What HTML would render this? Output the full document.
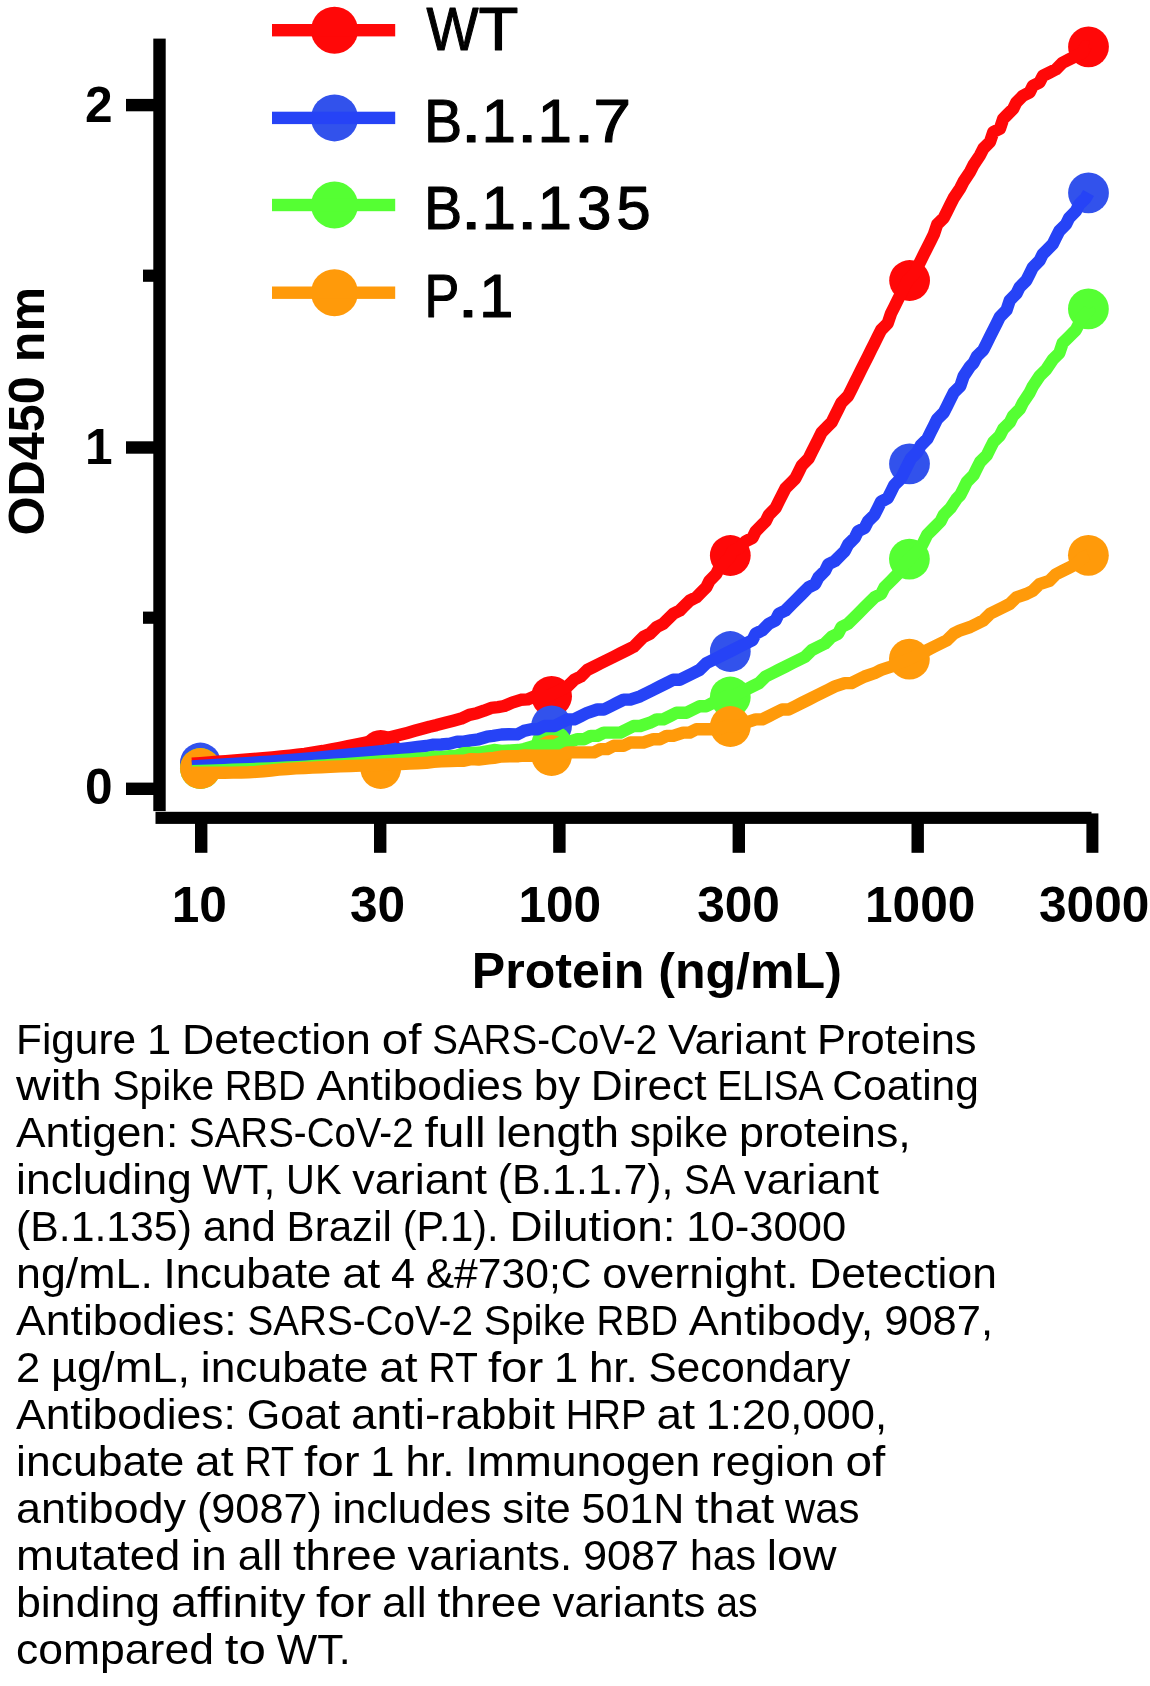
<!DOCTYPE html>
<html lang="en"><head><meta charset="utf-8"><title>Figure 1</title>
<style>
html,body{margin:0;padding:0;background:#fff;width:1150px;height:1686px;overflow:hidden}
svg{display:block;will-change:transform}
text{font-family:"Liberation Sans",sans-serif;fill:#000}
.lg{font-size:62px;stroke:#000;stroke-width:1.1px;stroke-linejoin:round}
.ax text{font-size:49.6px;font-weight:bold}
.cp text{font-size:42.2px}
</style></head><body>
<svg width="1150" height="1686" viewBox="0 0 1150 1686">
<rect width="1150" height="1686" fill="#fff"/>
<g fill="#000">
<rect x="153.3" y="38.6" width="12.4" height="772.5"/>
<rect x="155.5" y="811.8" width="936" height="12.1"/>
<rect x="126" y="98.9" width="28" height="12.4"/>
<rect x="126" y="441.3" width="28" height="12.4"/>
<rect x="126" y="782.6" width="28" height="12.4"/>
<rect x="143" y="269.6" width="11" height="12.2"/>
<rect x="143" y="611.6" width="11" height="12.2"/>
<rect x="195.0" y="818" width="12.4" height="34.8"/>
<rect x="374.0" y="818" width="12.4" height="34.8"/>
<rect x="553.2" y="818" width="12.4" height="34.8"/>
<rect x="732.6" y="818" width="12.4" height="34.8"/>
<rect x="911.5" y="818" width="12.4" height="34.8"/>
<rect x="1086.4" y="813.4" width="12" height="39.4"/>
</g>
<g fill="#FF0808">
<circle cx="200.4" cy="764.5" r="20.4"/>
<circle cx="380.7" cy="750.4" r="20.4"/>
<circle cx="551.6" cy="696.3" r="20.4"/>
<circle cx="730.3" cy="555.5" r="20.4"/>
<circle cx="909.6" cy="280.5" r="20.4"/>
<circle cx="1088.5" cy="46.8" r="20.4"/>
</g>
<g fill="#3252EC">
<circle cx="200.4" cy="763.0" r="20.4"/>
<circle cx="380.7" cy="756.0" r="20.4"/>
<circle cx="551.6" cy="725.8" r="20.4"/>
<circle cx="730.3" cy="651.5" r="20.4"/>
<circle cx="909.5" cy="463.8" r="20.4"/>
<circle cx="1088.5" cy="192.9" r="20.4"/>
</g>
<g fill="#55FF33">
<circle cx="200.4" cy="768.5" r="20.4"/>
<circle cx="380.7" cy="764.0" r="20.4"/>
<circle cx="551.6" cy="745.0" r="20.4"/>
<circle cx="730.3" cy="697.0" r="20.4"/>
<circle cx="909.4" cy="559.1" r="20.4"/>
<circle cx="1088.4" cy="308.9" r="20.4"/>
</g>
<g fill="#FF9A0A">
<circle cx="200.4" cy="768.5" r="20.4"/>
<circle cx="380.7" cy="768.5" r="20.4"/>
<circle cx="551.6" cy="755.5" r="20.4"/>
<circle cx="730.3" cy="726.5" r="20.4"/>
<circle cx="909.4" cy="659.1" r="20.4"/>
<circle cx="1088.4" cy="555.3" r="20.4"/>
</g>
<path d="M192.0 763.8 L200.5 763.1 L209.6 762.4 L217.3 761.8 L225.8 761.2 L234.8 760.5 L244.1 759.8 L253.6 759.0 L263.1 758.2 L272.4 757.4 L281.4 756.5 L289.8 755.6 L297.6 754.7 L304.7 753.8 L313.9 752.4 L322.9 751.0 L331.6 749.4 L340.0 747.8 L348.1 746.2 L355.9 744.6 L363.3 743.1 L370.3 741.6 L378.5 739.8 L385.7 738.3 L393.0 736.6 L400.1 734.8 L407.3 732.9 L414.7 730.8 L422.2 728.7 L429.5 726.7 L436.6 725.1 L445.3 722.8 L453.3 720.7 L461.3 718.6 L469.2 714.9 L476.9 713.2 L484.0 710.7 L491.1 707.9 L497.9 707.1 L504.3 706.0 L512.1 702.6 L520.9 699.8 L527.8 699.4 L534.6 696.3 L541.2 696.3 L547.8 696.3 L554.4 693.0 L561.0 689.7 L567.6 686.4 L574.2 679.8 L580.8 676.5 L587.4 669.9 L594.0 666.6 L600.6 663.3 L607.2 660.0 L613.8 656.7 L620.4 653.4 L627.0 650.1 L633.6 646.8 L640.2 640.2 L643.5 636.9 L650.1 633.6 L656.7 627.0 L663.3 623.7 L666.6 620.4 L673.2 613.8 L679.8 610.5 L683.1 607.2 L689.7 600.6 L696.3 597.3 L702.9 590.7 L706.2 587.4 L709.5 580.8 L716.1 574.2 L719.4 567.6 L722.7 564.3 L729.3 557.7 L732.6 551.1 L739.2 547.8 L745.8 541.2 L752.4 537.9 L755.7 531.3 L762.3 524.7 L765.6 521.4 L768.9 514.8 L775.5 508.2 L778.8 501.6 L782.1 495.0 L785.4 488.4 L792.0 481.8 L795.3 478.5 L798.6 471.9 L801.9 465.3 L808.5 458.7 L811.8 452.1 L815.1 445.5 L818.4 438.9 L821.7 432.3 L828.3 425.7 L831.6 422.4 L834.9 415.8 L838.2 409.2 L841.5 402.6 L848.1 396.0 L851.4 389.4 L854.7 382.8 L858.0 376.2 L861.3 369.6 L864.6 363.0 L867.9 356.4 L871.2 349.8 L874.5 343.2 L877.8 336.6 L881.1 330.0 L887.7 323.4 L891.0 313.5 L894.3 306.9 L897.6 300.3 L900.9 293.7 L904.2 287.1 L907.5 280.5 L914.1 273.9 L917.4 267.3 L920.7 260.7 L924.0 254.1 L927.3 247.5 L930.6 240.9 L933.9 234.3 L937.2 224.4 L943.8 217.8 L947.1 211.2 L950.4 204.6 L953.7 198.0 L960.3 188.1 L963.6 181.5 L970.2 171.6 L973.5 165.0 L980.1 155.1 L983.4 148.5 L990.0 141.9 L993.3 132.0 L999.9 128.7 L1003.2 118.8 L1006.5 115.5 L1013.1 108.9 L1016.4 102.3 L1023.0 95.7 L1029.6 92.4 L1032.9 85.8 L1039.5 82.5 L1042.8 75.9 L1049.4 72.6 L1056.0 69.3 L1062.6 62.7 L1069.2 59.4 L1075.8 56.1 L1082.4 52.8 L1085.7 46.2 L1088.5 46.8" fill="none" stroke="#FF0808" stroke-width="12.4" stroke-linejoin="round"/>
<path d="M192.0 766.5 L200.2 766.0 L208.7 765.5 L216.0 765.0 L224.0 764.5 L232.5 764.0 L241.4 763.5 L250.6 762.9 L260.0 762.2 L269.5 761.6 L278.9 760.9 L288.1 760.2 L297.1 759.4 L305.9 758.7 L315.1 757.8 L324.7 756.9 L334.5 755.9 L344.5 754.9 L354.6 753.9 L364.6 752.9 L374.5 751.8 L384.0 750.8 L393.3 749.8 L402.0 748.8 L410.2 747.9 L417.7 747.0 L426.4 746.0 L433.6 744.6 L441.3 744.5 L450.0 743.6 L457.2 741.6 L464.0 741.7 L470.8 740.4 L478.6 739.3 L487.1 736.7 L493.1 735.9 L501.4 734.5 L508.8 734.3 L517.1 734.4 L523.9 730.9 L531.3 729.3 L537.9 729.3 L544.5 726.0 L554.4 726.0 L561.0 722.7 L567.6 719.4 L574.2 719.4 L580.8 716.1 L587.4 712.8 L597.3 709.5 L603.9 709.5 L610.5 706.2 L617.1 702.9 L623.7 699.6 L630.3 699.6 L640.2 696.3 L646.8 693.0 L653.4 689.7 L660.0 686.4 L666.6 683.1 L673.2 679.8 L679.8 679.8 L686.4 676.5 L693.0 673.2 L699.6 669.9 L706.2 663.3 L712.8 660.0 L719.4 656.7 L726.0 653.4 L732.6 650.1 L739.2 646.8 L745.8 643.5 L752.4 640.2 L755.7 633.6 L762.3 630.3 L768.9 623.7 L775.5 620.4 L778.8 613.8 L785.4 610.5 L792.0 603.9 L795.3 600.6 L801.9 594.0 L808.5 587.4 L815.1 584.1 L818.4 577.5 L825.0 570.9 L828.3 564.3 L834.9 561.0 L841.5 554.4 L844.8 551.1 L848.1 544.5 L854.7 537.9 L858.0 531.3 L864.6 528.0 L867.9 521.4 L874.5 514.8 L877.8 508.2 L881.1 501.6 L887.7 498.3 L891.0 491.7 L894.3 485.1 L900.9 478.5 L904.2 471.9 L907.5 465.3 L910.8 458.7 L917.4 452.1 L920.7 445.5 L927.3 438.9 L930.6 432.3 L933.9 425.7 L937.2 419.1 L943.8 412.5 L947.1 405.9 L950.4 399.3 L953.7 392.7 L960.3 386.1 L963.6 376.2 L970.2 366.3 L973.5 363.0 L976.8 356.4 L983.4 349.8 L986.7 343.2 L990.0 336.6 L993.3 330.0 L996.6 323.4 L999.9 316.8 L1006.5 310.2 L1009.8 300.3 L1016.4 293.7 L1019.7 287.1 L1026.3 280.5 L1029.6 273.9 L1032.9 267.3 L1039.5 260.7 L1042.8 254.1 L1046.1 250.8 L1052.7 244.2 L1056.0 237.6 L1059.3 231.0 L1065.9 224.4 L1069.2 217.8 L1075.8 211.2 L1079.1 204.6 L1085.7 198.0 L1088.5 192.9" fill="none" stroke="#2643F6" stroke-width="12.4" stroke-linejoin="round"/>
<path d="M192.0 771.2 L200.2 770.9 L208.7 770.6 L216.0 770.4 L224.0 770.1 L232.5 769.8 L241.4 769.5 L250.6 769.1 L260.0 768.8 L269.5 768.4 L278.9 768.0 L288.1 767.5 L297.1 767.1 L305.9 766.6 L315.1 766.0 L324.7 765.4 L334.5 764.8 L344.5 764.1 L354.6 763.4 L364.6 762.7 L374.5 762.0 L384.0 761.3 L393.3 760.6 L402.0 760.0 L410.2 759.4 L417.7 758.8 L426.4 758.1 L433.6 757.0 L441.3 757.2 L450.0 756.2 L457.2 755.6 L464.0 753.1 L470.8 752.9 L478.6 752.8 L488.5 751.0 L494.0 750.0 L501.6 751.0 L511.0 750.5 L518.5 750.0 L524.3 749.0 L534.6 745.8 L541.2 745.8 L547.8 745.8 L554.4 745.8 L561.0 742.5 L567.6 742.5 L577.5 739.2 L584.1 739.2 L590.7 735.9 L597.3 735.9 L603.9 732.6 L613.8 732.6 L620.4 732.6 L627.0 729.3 L633.6 726.0 L640.2 726.0 L650.1 722.7 L656.7 719.4 L663.3 719.4 L669.9 716.1 L676.5 712.8 L686.4 712.8 L693.0 709.5 L699.6 706.2 L706.2 706.2 L712.8 702.9 L719.4 699.6 L726.0 696.3 L732.6 696.3 L739.2 693.0 L745.8 689.7 L752.4 686.4 L759.0 683.1 L765.6 676.5 L772.2 673.2 L778.8 669.9 L785.4 666.6 L792.0 663.3 L798.6 660.0 L805.2 656.7 L811.8 650.1 L818.4 646.8 L825.0 643.5 L831.6 636.9 L838.2 633.6 L841.5 627.0 L848.1 623.7 L854.7 617.1 L858.0 613.8 L864.6 607.2 L867.9 603.9 L874.5 597.3 L881.1 594.0 L884.4 587.4 L891.0 580.8 L894.3 577.5 L900.9 570.9 L904.2 564.3 L910.8 557.7 L914.1 554.4 L920.7 547.8 L924.0 541.2 L927.3 534.6 L933.9 528.0 L940.5 521.4 L943.8 514.8 L950.4 508.2 L957.0 498.3 L960.3 495.0 L963.6 488.4 L966.9 481.8 L973.5 475.2 L976.8 468.6 L980.1 462.0 L986.7 455.4 L990.0 448.8 L993.3 442.2 L999.9 435.6 L1003.2 429.0 L1009.8 422.4 L1013.1 415.8 L1019.7 409.2 L1023.0 402.6 L1029.6 392.7 L1032.9 386.1 L1039.5 376.2 L1046.1 369.6 L1052.7 359.7 L1059.3 353.1 L1062.6 343.2 L1069.2 336.6 L1075.8 330.0 L1079.1 323.4 L1082.4 316.8 L1089.0 310.2 L1088.4 308.9" fill="none" stroke="#55FF33" stroke-width="12.4" stroke-linejoin="round"/>
<path d="M192.0 772.7 L200.0 772.7 L208.3 772.7 L216.2 772.7 L224.6 772.7 L233.0 772.6 L241.2 772.5 L248.6 772.3 L256.1 771.9 L263.3 771.3 L271.0 770.5 L278.7 769.7 L287.1 769.0 L295.9 768.4 L304.6 768.0 L312.3 767.6 L320.9 767.2 L330.3 766.8 L340.2 766.4 L350.5 766.0 L361.0 765.6 L371.4 765.2 L381.7 764.7 L391.7 764.3 L401.1 764.0 L409.8 763.6 L417.6 763.2 L426.4 762.8 L433.6 761.9 L441.3 761.4 L450.0 761.0 L457.2 760.8 L464.0 760.7 L470.8 759.1 L478.6 759.5 L488.5 758.3 L494.0 757.8 L501.6 756.5 L511.0 756.3 L518.5 756.2 L524.3 755.5 L534.6 755.7 L541.2 755.7 L547.8 755.7 L554.4 755.7 L561.0 755.7 L567.6 752.4 L577.5 752.4 L584.1 752.4 L594.0 752.4 L600.6 749.1 L607.2 749.1 L613.8 745.8 L623.7 745.8 L630.3 742.5 L636.9 742.5 L643.5 742.5 L653.4 739.2 L660.0 739.2 L666.6 735.9 L673.2 735.9 L683.1 732.6 L689.7 732.6 L696.3 729.3 L702.9 729.3 L709.5 729.3 L719.4 729.3 L726.0 726.0 L732.6 726.0 L739.2 726.0 L745.8 722.7 L755.7 719.4 L762.3 719.4 L768.9 716.1 L775.5 712.8 L782.1 709.5 L788.7 709.5 L795.3 706.2 L801.9 702.9 L808.5 699.6 L815.1 696.3 L821.7 693.0 L828.3 689.7 L834.9 686.4 L844.8 683.1 L851.4 683.1 L858.0 679.8 L864.6 676.5 L874.5 673.2 L881.1 669.9 L891.0 666.6 L897.6 663.3 L907.5 660.0 L914.1 656.7 L920.7 653.4 L927.3 650.1 L933.9 646.8 L940.5 643.5 L947.1 640.2 L953.7 633.6 L960.3 630.3 L970.2 627.0 L976.8 623.7 L983.4 620.4 L990.0 613.8 L996.6 610.5 L1003.2 607.2 L1009.8 603.9 L1016.4 597.3 L1026.3 594.0 L1032.9 590.7 L1039.5 584.1 L1049.4 580.8 L1056.0 574.2 L1062.6 570.9 L1069.2 567.6 L1075.8 564.3 L1082.4 557.7 L1088.4 555.3" fill="none" stroke="#FF9A0A" stroke-width="12.4" stroke-linejoin="round"/>
<circle cx="334.5" cy="30.2" r="23.5" fill="#FF0808"/>
<rect x="272" y="24.0" width="123.2" height="12.4" fill="#FF0808"/>
<text class="lg" y="50.2"><tspan x="426.5" textLength="52.1" lengthAdjust="spacingAndGlyphs">W</tspan><tspan x="478.4" textLength="39.9" lengthAdjust="spacingAndGlyphs">T</tspan></text>
<circle cx="334.5" cy="117.9" r="23.5" fill="#3252EC"/>
<rect x="272" y="111.7" width="123.2" height="12.4" fill="#2643F6"/>
<text class="lg" y="141.5"><tspan x="424.0" textLength="38.2" lengthAdjust="spacingAndGlyphs">B</tspan><tspan x="460.4" textLength="21.5" lengthAdjust="spacingAndGlyphs">.</tspan><tspan x="481.6">1</tspan><tspan x="516.4" textLength="21.5" lengthAdjust="spacingAndGlyphs">.</tspan><tspan x="537.6">1</tspan><tspan x="573.2" textLength="21.5" lengthAdjust="spacingAndGlyphs">.</tspan><tspan x="593.2" textLength="37.9" lengthAdjust="spacingAndGlyphs">7</tspan></text>
<circle cx="334.5" cy="205.0" r="23.5" fill="#55FF33"/>
<rect x="272" y="198.8" width="123.2" height="12.4" fill="#55FF33"/>
<text class="lg" y="228.8"><tspan x="424.0" textLength="38.2" lengthAdjust="spacingAndGlyphs">B</tspan><tspan x="460.4" textLength="21.5" lengthAdjust="spacingAndGlyphs">.</tspan><tspan x="481.6">1</tspan><tspan x="516.4" textLength="21.5" lengthAdjust="spacingAndGlyphs">.</tspan><tspan x="537.6">1</tspan><tspan x="576.9">3</tspan><tspan x="616.3">5</tspan></text>
<circle cx="334.5" cy="292.7" r="23.5" fill="#FF9A0A"/>
<rect x="272" y="286.5" width="123.2" height="12.4" fill="#FF9A0A"/>
<text class="lg" y="316.9"><tspan x="424.4" textLength="34.8" lengthAdjust="spacingAndGlyphs">P</tspan><tspan x="457.2" textLength="21.5" lengthAdjust="spacingAndGlyphs">.</tspan><tspan x="479.1">1</tspan></text>
<g class="ax">
<text x="199.3" y="921.6" text-anchor="middle">10</text>
<text x="377.6" y="921.6" text-anchor="middle">30</text>
<text x="559.8" y="921.6" text-anchor="middle">100</text>
<text x="738.5" y="921.6" text-anchor="middle">300</text>
<text x="920.2" y="921.6" text-anchor="middle">1000</text>
<text x="1094.2" y="921.6" text-anchor="middle">3000</text>
<text x="112.5" y="122.2" text-anchor="end">2</text>
<text x="112.5" y="463.6" text-anchor="end">1</text>
<text x="112.5" y="804.0" text-anchor="end">0</text>
<text x="656.8" y="988" text-anchor="middle" style="font-size:50.1px">Protein (ng/mL)</text>
<text transform="translate(43.8 411.2) rotate(-90)" text-anchor="middle" style="font-size:50.3px">OD450 nm</text>
</g>
<g class="cp">
<text y="1053.5"><tspan x="16.0" textLength="120.1" lengthAdjust="spacingAndGlyphs">Figure</tspan> <tspan x="146.9" textLength="24.2" lengthAdjust="spacingAndGlyphs">1</tspan> <tspan x="181.9" textLength="189.0" lengthAdjust="spacingAndGlyphs">Detection</tspan> <tspan x="381.7" textLength="39.7" lengthAdjust="spacingAndGlyphs">of</tspan> <tspan x="432.2" textLength="224.9" lengthAdjust="spacingAndGlyphs">SARS-CoV-2</tspan> <tspan x="667.9" textLength="138.3" lengthAdjust="spacingAndGlyphs">Variant</tspan> <tspan x="817.0" textLength="159.6" lengthAdjust="spacingAndGlyphs">Proteins</tspan></text>
<text y="1100.4"><tspan x="16.0" textLength="85.8" lengthAdjust="spacingAndGlyphs">with</tspan> <tspan x="112.5" textLength="101.5" lengthAdjust="spacingAndGlyphs">Spike</tspan> <tspan x="224.7" textLength="80.9" lengthAdjust="spacingAndGlyphs">RBD</tspan> <tspan x="316.4" textLength="206.7" lengthAdjust="spacingAndGlyphs">Antibodies</tspan> <tspan x="533.8" textLength="46.3" lengthAdjust="spacingAndGlyphs">by</tspan> <tspan x="590.8" textLength="115.8" lengthAdjust="spacingAndGlyphs">Direct</tspan> <tspan x="717.3" textLength="104.2" lengthAdjust="spacingAndGlyphs">ELISA</tspan> <tspan x="832.3" textLength="146.6" lengthAdjust="spacingAndGlyphs">Coating</tspan></text>
<text y="1147.3"><tspan x="16.0" textLength="162.2" lengthAdjust="spacingAndGlyphs">Antigen:</tspan> <tspan x="189.0" textLength="224.6" lengthAdjust="spacingAndGlyphs">SARS-CoV-2</tspan> <tspan x="424.4" textLength="61.4" lengthAdjust="spacingAndGlyphs">full</tspan> <tspan x="496.6" textLength="122.4" lengthAdjust="spacingAndGlyphs">length</tspan> <tspan x="629.7" textLength="98.4" lengthAdjust="spacingAndGlyphs">spike</tspan> <tspan x="739.0" textLength="171.7" lengthAdjust="spacingAndGlyphs">proteins,</tspan></text>
<text y="1194.3"><tspan x="16.0" textLength="175.8" lengthAdjust="spacingAndGlyphs">including</tspan> <tspan x="202.6" textLength="72.7" lengthAdjust="spacingAndGlyphs">WT,</tspan> <tspan x="286.1" textLength="55.4" lengthAdjust="spacingAndGlyphs">UK</tspan> <tspan x="352.3" textLength="134.8" lengthAdjust="spacingAndGlyphs">variant</tspan> <tspan x="497.8" textLength="175.5" lengthAdjust="spacingAndGlyphs">(B.1.1.7),</tspan> <tspan x="684.1" textLength="49.2" lengthAdjust="spacingAndGlyphs">SA</tspan> <tspan x="744.1" textLength="134.8" lengthAdjust="spacingAndGlyphs">variant</tspan></text>
<text y="1241.2"><tspan x="16.0" textLength="175.9" lengthAdjust="spacingAndGlyphs">(B.1.135)</tspan> <tspan x="202.7" textLength="73.1" lengthAdjust="spacingAndGlyphs">and</tspan> <tspan x="286.6" textLength="105.3" lengthAdjust="spacingAndGlyphs">Brazil</tspan> <tspan x="402.7" textLength="95.9" lengthAdjust="spacingAndGlyphs">(P.1).</tspan> <tspan x="509.4" textLength="166.1" lengthAdjust="spacingAndGlyphs">Dilution:</tspan> <tspan x="686.3" textLength="159.9" lengthAdjust="spacingAndGlyphs">10-3000</tspan></text>
<text y="1288.1"><tspan x="16.0" textLength="136.9" lengthAdjust="spacingAndGlyphs">ng/mL.</tspan> <tspan x="163.6" textLength="167.8" lengthAdjust="spacingAndGlyphs">Incubate</tspan> <tspan x="342.2" textLength="38.1" lengthAdjust="spacingAndGlyphs">at</tspan> <tspan x="391.0" textLength="24.0" lengthAdjust="spacingAndGlyphs">4</tspan> <tspan x="425.7" textLength="165.9" lengthAdjust="spacingAndGlyphs">&amp;#730;C</tspan> <tspan x="602.3" textLength="196.2" lengthAdjust="spacingAndGlyphs">overnight.</tspan> <tspan x="809.2" textLength="187.7" lengthAdjust="spacingAndGlyphs">Detection</tspan></text>
<text y="1335.0"><tspan x="16.0" textLength="220.7" lengthAdjust="spacingAndGlyphs">Antibodies:</tspan> <tspan x="247.5" textLength="225.4" lengthAdjust="spacingAndGlyphs">SARS-CoV-2</tspan> <tspan x="483.7" textLength="102.1" lengthAdjust="spacingAndGlyphs">Spike</tspan> <tspan x="596.6" textLength="81.4" lengthAdjust="spacingAndGlyphs">RBD</tspan> <tspan x="688.8" textLength="184.6" lengthAdjust="spacingAndGlyphs">Antibody,</tspan> <tspan x="884.2" textLength="108.9" lengthAdjust="spacingAndGlyphs">9087,</tspan></text>
<text y="1381.9"><tspan x="16.0" textLength="24.2" lengthAdjust="spacingAndGlyphs">2</tspan> <tspan x="50.9" textLength="139.1" lengthAdjust="spacingAndGlyphs">µg/mL,</tspan> <tspan x="200.8" textLength="167.7" lengthAdjust="spacingAndGlyphs">incubate</tspan> <tspan x="379.3" textLength="38.3" lengthAdjust="spacingAndGlyphs">at</tspan> <tspan x="428.5" textLength="48.6" lengthAdjust="spacingAndGlyphs">RT</tspan> <tspan x="487.9" textLength="55.3" lengthAdjust="spacingAndGlyphs">for</tspan> <tspan x="553.9" textLength="24.2" lengthAdjust="spacingAndGlyphs">1</tspan> <tspan x="588.9" textLength="48.9" lengthAdjust="spacingAndGlyphs">hr.</tspan> <tspan x="648.5" textLength="201.8" lengthAdjust="spacingAndGlyphs">Secondary</tspan></text>
<text y="1428.9"><tspan x="16.0" textLength="219.9" lengthAdjust="spacingAndGlyphs">Antibodies:</tspan> <tspan x="246.7" textLength="93.5" lengthAdjust="spacingAndGlyphs">Goat</tspan> <tspan x="351.0" textLength="203.9" lengthAdjust="spacingAndGlyphs">anti-rabbit</tspan> <tspan x="565.7" textLength="80.2" lengthAdjust="spacingAndGlyphs">HRP</tspan> <tspan x="656.6" textLength="38.3" lengthAdjust="spacingAndGlyphs">at</tspan> <tspan x="705.7" textLength="181.4" lengthAdjust="spacingAndGlyphs">1:20,000,</tspan></text>
<text y="1475.8"><tspan x="16.0" textLength="168.3" lengthAdjust="spacingAndGlyphs">incubate</tspan> <tspan x="195.1" textLength="38.5" lengthAdjust="spacingAndGlyphs">at</tspan> <tspan x="244.4" textLength="48.8" lengthAdjust="spacingAndGlyphs">RT</tspan> <tspan x="304.1" textLength="55.5" lengthAdjust="spacingAndGlyphs">for</tspan> <tspan x="370.3" textLength="24.2" lengthAdjust="spacingAndGlyphs">1</tspan> <tspan x="405.4" textLength="49.1" lengthAdjust="spacingAndGlyphs">hr.</tspan> <tspan x="465.3" textLength="235.0" lengthAdjust="spacingAndGlyphs">Immunogen</tspan> <tspan x="711.0" textLength="123.7" lengthAdjust="spacingAndGlyphs">region</tspan> <tspan x="845.5" textLength="39.8" lengthAdjust="spacingAndGlyphs">of</tspan></text>
<text y="1522.7"><tspan x="16.0" textLength="170.1" lengthAdjust="spacingAndGlyphs">antibody</tspan> <tspan x="196.9" textLength="125.1" lengthAdjust="spacingAndGlyphs">(9087)</tspan> <tspan x="332.6" textLength="158.9" lengthAdjust="spacingAndGlyphs">includes</tspan> <tspan x="502.3" textLength="68.5" lengthAdjust="spacingAndGlyphs">site</tspan> <tspan x="581.5" textLength="102.8" lengthAdjust="spacingAndGlyphs">501N</tspan> <tspan x="695.1" textLength="79.1" lengthAdjust="spacingAndGlyphs">that</tspan> <tspan x="784.9" textLength="74.7" lengthAdjust="spacingAndGlyphs">was</tspan></text>
<text y="1569.6"><tspan x="16.0" textLength="164.4" lengthAdjust="spacingAndGlyphs">mutated</tspan> <tspan x="191.1" textLength="35.8" lengthAdjust="spacingAndGlyphs">in</tspan> <tspan x="237.7" textLength="44.5" lengthAdjust="spacingAndGlyphs">all</tspan> <tspan x="292.9" textLength="104.0" lengthAdjust="spacingAndGlyphs">three</tspan> <tspan x="407.6" textLength="164.6" lengthAdjust="spacingAndGlyphs">variants.</tspan> <tspan x="582.9" textLength="96.2" lengthAdjust="spacingAndGlyphs">9087</tspan> <tspan x="689.9" textLength="66.2" lengthAdjust="spacingAndGlyphs">has</tspan> <tspan x="766.8" textLength="69.7" lengthAdjust="spacingAndGlyphs">low</tspan></text>
<text y="1616.5"><tspan x="16.0" textLength="144.2" lengthAdjust="spacingAndGlyphs">binding</tspan> <tspan x="171.0" textLength="134.3" lengthAdjust="spacingAndGlyphs">affinity</tspan> <tspan x="316.1" textLength="55.2" lengthAdjust="spacingAndGlyphs">for</tspan> <tspan x="382.0" textLength="44.6" lengthAdjust="spacingAndGlyphs">all</tspan> <tspan x="437.4" textLength="104.2" lengthAdjust="spacingAndGlyphs">three</tspan> <tspan x="552.4" textLength="153.0" lengthAdjust="spacingAndGlyphs">variants</tspan> <tspan x="716.2" textLength="41.4" lengthAdjust="spacingAndGlyphs">as</tspan></text>
<text y="1663.5"><tspan x="16.0" textLength="197.9" lengthAdjust="spacingAndGlyphs">compared</tspan> <tspan x="224.8" textLength="41.1" lengthAdjust="spacingAndGlyphs">to</tspan> <tspan x="276.8" textLength="73.8" lengthAdjust="spacingAndGlyphs">WT.</tspan></text>
</g>
</svg>
</body></html>
